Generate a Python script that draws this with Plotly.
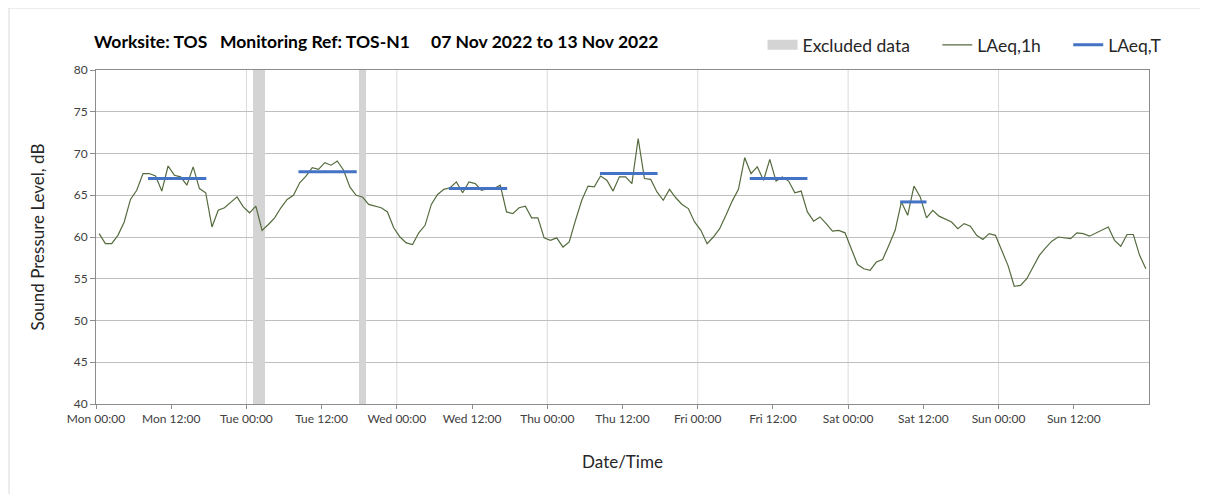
import plotly.graph_objects as go

# Hourly LAeq,1h values, Mon 00:00 .. Sun 23:00 (168 hours)
laeq_1h = [
    60.4, 59.2, 59.2, 60.2, 61.8, 64.5, 65.6, 67.6, 67.6, 67.3, 65.5, 68.5, 67.4, 67.2, 66.2, 68.4,
    65.8, 65.3, 61.2, 63.2, 63.5, 64.1, 64.8, 63.6,
    62.9, 63.7, 60.8, 61.5, 62.3, 63.5, 64.5, 65.0, 66.5, 67.3, 68.3, 68.1, 68.9, 68.6, 69.1, 68.0,
    66.0, 65.0, 64.8, 63.9, 63.7, 63.5, 63.0, 61.1,
    60.0, 59.3, 59.1, 60.5, 61.4, 63.9, 65.1, 65.7, 65.9, 66.6, 65.3, 66.6, 66.4, 65.6, 65.8, 65.8,
    66.2, 63.0, 62.8, 63.5, 63.7, 62.3, 62.3, 59.9,
    59.6, 59.9, 58.8, 59.4, 62.0, 64.4, 66.1, 66.0, 67.3, 66.8, 65.5, 67.2, 67.2, 66.4, 71.8, 67.0,
    66.9, 65.4, 64.4, 65.7, 64.7, 63.9, 63.4, 61.8,
    60.8, 59.2, 60.0, 61.0, 62.6, 64.3, 65.7, 69.5, 67.6, 68.4, 66.8, 69.3, 66.7, 67.2, 66.7, 65.3,
    65.5, 63.0, 61.9, 62.4, 61.6, 60.7, 60.8, 60.5,
    58.6, 56.7, 56.2, 56.0, 57.0, 57.3, 59.0, 60.8, 64.2, 62.6, 66.1, 64.8, 62.3, 63.2, 62.5, 62.1,
    61.8, 61.0, 61.6, 61.3, 60.2, 59.7, 60.4, 60.2,
    58.4, 56.6, 54.1, 54.2, 55.0, 56.4, 57.8, 58.7, 59.5, 60.0, 59.9, 59.8, 60.5, 60.4, 60.1, 60.5,
    60.9, 61.2, 59.6, 58.9, 60.3, 60.3, 57.8, 56.2,
]
hours = [h + 0.5 for h in range(len(laeq_1h))]

# LAeq,T periods (hours from Mon 00:00) and levels
period_start = [8.3, 32.3, 56.3, 80.4, 104.3, 128.3]
period_end = [17.6, 41.6, 65.6, 89.6, 113.5, 132.5]
period_level = [67.0, 67.8, 65.8, 67.6, 67.0, 64.2]

# Excluded data intervals (hours from Mon 00:00)
excl_start = [25.0, 42.0]
excl_end = [26.9, 43.0]

tick_vals = list(range(0, 168, 12))
tick_text = ["Mon 00:00", "Mon 12:00", "Tue 00:00", "Tue 12:00", "Wed 00:00", "Wed 12:00",
             "Thu 00:00", "Thu 12:00", "Fri 00:00", "Fri 12:00", "Sat 00:00", "Sat 12:00",
             "Sun 00:00", "Sun 12:00"]
y_ticks = [40, 45, 50, 55, 60, 65, 70, 75, 80]

FONT = "Lato"
PAD = "\u00a0" * 5

fig = go.Figure()

fig.add_trace(go.Bar(
    x=[(s + e) / 2 for s, e in zip(excl_start, excl_end)],
    y=[40 for _ in excl_start],
    base=40,
    width=[e - s for s, e in zip(excl_start, excl_end)],
    marker=dict(color="#d4d4d4", line=dict(width=0)),
    name="Excluded data",
    showlegend=False,
    hoverinfo="skip",
))
# legend key for excluded data (wide grey block)
fig.add_trace(go.Scatter(
    x=[None], y=[None], mode="lines",
    line=dict(color="#d4d4d4", width=12),
    name="Excluded data" + PAD,
))

fig.add_trace(go.Scatter(
    x=hours, y=laeq_1h, mode="lines",
    line=dict(color="#556b3e", width=1.2),
    name="LAeq,1h" + PAD,
))

tx, ty = [], []
for s, e, v in zip(period_start, period_end, period_level):
    tx += [s, e, None]
    ty += [v, v, None]
fig.add_trace(go.Scatter(
    x=tx, y=ty, mode="lines",
    line=dict(color="#4472c4", width=3),
    name="LAeq,T",
))

# Vertical day gridlines
shapes = []
for d in range(1, 7):
    shapes.append(dict(type="line", xref="x", yref="paper", x0=24 * d, x1=24 * d, y0=0, y1=1,
                       line=dict(color="#dadada", width=1), layer="below"))
# chart frame (top and left)
shapes.append(dict(type="line", xref="paper", yref="paper", x0=-0.0826, x1=1.06, y0=1.1856, y1=1.1856,
                   line=dict(color="#d9d9d9", width=1)))
shapes.append(dict(type="line", xref="paper", yref="paper", x0=-0.0826, x1=-0.0826, y0=-0.3, y1=1.1856,
                   line=dict(color="#d9d9d9", width=1)))

fig.update_layout(
    width=1200, height=486,
    margin=dict(l=88, r=59, t=62, b=90),
    paper_bgcolor="white", plot_bgcolor="white",
    font=dict(family=FONT, color="#404040", size=12),
    shapes=shapes,
    bargap=0,
    showlegend=True,
    legend=dict(orientation="h", x=0.633, xanchor="left", y=1.075, yanchor="middle",
                font=dict(size=17.5, color="#262626", family=FONT), bgcolor="rgba(0,0,0,0)",
                itemwidth=30, tracegroupgap=0),
    annotations=[dict(
        text="<b>Worksite: TOS   Monitoring Ref: TOS-N1     07 Nov 2022 to 13 Nov 2022</b>",
        xref="paper", yref="paper", x=-0.004, y=1.085, xanchor="left", yanchor="middle",
        showarrow=False, font=dict(size=17.5, color="#000000", family=FONT),
    )],
    xaxis=dict(
        range=[0, 168], tickmode="array", tickvals=tick_vals, ticktext=tick_text,
        showgrid=False, zeroline=False,
        showline=True, linecolor="#8c8c8c", linewidth=1, mirror=True,
        ticks="outside", ticklen=4, tickcolor="#8c8c8c",
        tickfont=dict(size=12, color="#404040", family=FONT),
        title=dict(text="Date/Time", font=dict(size=17, color="#262626", family=FONT), standoff=30),
    ),
    yaxis=dict(
        range=[40, 80], tickmode="array", tickvals=y_ticks,
        showgrid=True, gridcolor="#bfbfbf", gridwidth=1, zeroline=False,
        showline=True, linecolor="#8c8c8c", linewidth=1, mirror=True,
        ticks="outside", ticklen=5, tickcolor="#8c8c8c",
        tickfont=dict(size=12, color="#404040", family=FONT),
        title=dict(text="Sound Pressure Level, dB", font=dict(size=17, color="#262626", family=FONT), standoff=24),
    ),
)

fig.write_html("out.html")
